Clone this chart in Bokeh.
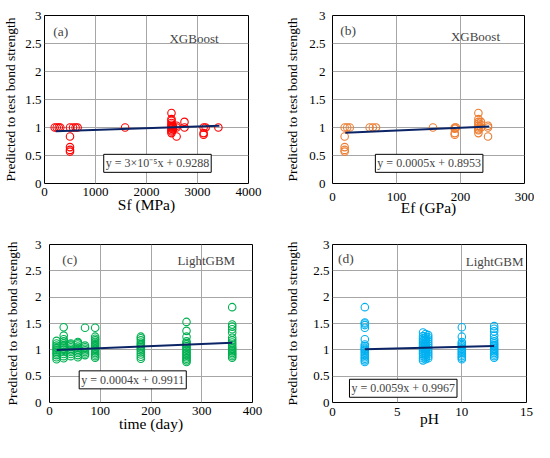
from bokeh.plotting import figure
from bokeh.layouts import column, row
from bokeh.models import Label, FixedTicker, Range1d
from bokeh.embed import file_html
from bokeh.resources import INLINE

# ---------------- data ----------------
sf_x = [200, 240, 280, 310, 500, 500, 500, 500, 500, 560, 610, 650, 1580,
        2490, 2490, 2490, 2490, 2490, 2490, 2490, 2490, 2490, 2490, 2490,
        2520, 2520, 2520, 2590, 2590, 2590, 2745, 2745, 3120, 3120, 3120, 3160, 3410]
sf_y = [1.0, 1.0, 1.0, 1.0, 1.0, 0.84, 0.65, 0.6, 0.57, 1.0, 1.0, 1.0, 1.0,
        1.26, 1.15, 1.12, 1.08, 1.05, 1.02, 1.0, 0.98, 0.95, 0.93, 0.9,
        1.0, 1.02, 0.97, 1.03, 1.0, 0.84, 1.1, 1.0, 1.0, 0.9, 0.87, 1.0, 1.0]
sf_fit_x = [220, 3430]
sf_fit_y = [0.935, 1.032]

ef_x = [19, 19, 19, 19, 19, 23, 27, 58, 63, 68, 157,
        191, 191, 191, 191, 193,
        228, 228, 228, 228, 228, 228, 228, 228, 228, 232, 232, 232,
        243, 243, 243]
ef_y = [1.0, 0.84, 0.65, 0.6, 0.57, 1.0, 1.0, 1.0, 1.0, 1.0, 1.0,
        1.0, 0.98, 0.9, 0.87, 1.0,
        1.26, 1.15, 1.1, 1.07, 1.03, 1.0, 0.97, 0.95, 0.9, 1.1, 1.05, 1.0,
        1.03, 1.0, 0.84]
ef_fit_x = [20, 245]
ef_fit_y = [0.905, 1.018]

t_x = ([14] * 11 + [28] * 13 + [42] * 9 + [56] * 10 + [70] * 8 + [90] * 15 +
       [180] * 13 + [270] * 17 + [360] * 17)
t_y = ([0.82, 0.86, 0.9, 0.93, 0.96, 0.99, 1.02, 1.05, 1.08, 1.12, 1.17] +
       [0.84, 0.88, 0.92, 0.96, 1.0, 1.03, 1.06, 1.09, 1.12, 1.16, 1.2, 1.27, 1.43] +
       [0.88, 0.92, 0.96, 0.99, 1.02, 1.05, 1.08, 1.1, 1.12] +
       [0.86, 0.9, 0.94, 0.97, 1.0, 1.03, 1.06, 1.1, 1.13, 1.15] +
       [0.9, 0.93, 0.96, 0.99, 1.02, 1.05, 1.08, 1.42] +
       [0.85, 0.88, 0.91, 0.94, 0.97, 1.0, 1.03, 1.06, 1.09, 1.12, 1.15, 1.18, 1.21, 1.25, 1.42] +
       [0.83, 0.87, 0.91, 0.95, 0.99, 1.02, 1.05, 1.08, 1.11, 1.14, 1.18, 1.22, 1.25] +
       [0.77, 0.8, 0.83, 0.86, 0.89, 0.92, 0.95, 0.98, 1.01, 1.04, 1.07, 1.1, 1.13, 1.16, 1.25, 1.36, 1.53] +
       [0.85, 0.88, 0.91, 0.94, 0.97, 1.0, 1.03, 1.06, 1.1, 1.14, 1.18, 1.23, 1.33, 1.39, 1.44, 1.48, 1.81])
t_fit_x = [14, 360]
t_fit_y = [0.997, 1.135]

ph_x = ([2.5] * 19 + [7.0] * 16 + [7.2] * 14 + [7.4] * 12 + [10.0] * 14 + [12.5] * 16)
ph_y = ([0.77, 0.8, 0.83, 0.86, 0.89, 0.92, 0.95, 0.98, 1.0, 1.02, 1.04, 1.07, 1.1, 1.2, 1.42, 1.47, 1.5, 1.52, 1.81] +
        [0.8, 0.84, 0.88, 0.92, 0.95, 0.98, 1.01, 1.04, 1.07, 1.1, 1.13, 1.16, 1.19, 1.22, 1.26, 1.33] +
        [0.82, 0.86, 0.9, 0.94, 0.97, 1.0, 1.03, 1.06, 1.09, 1.12, 1.15, 1.19, 1.24, 1.3] +
        [0.84, 0.88, 0.92, 0.96, 1.0, 1.04, 1.08, 1.12, 1.16, 1.2, 1.24, 1.28] +
        [0.82, 0.85, 0.88, 0.91, 0.94, 0.97, 1.0, 1.03, 1.06, 1.09, 1.12, 1.15, 1.25, 1.43] +
        [0.85, 0.88, 0.91, 0.94, 0.97, 1.0, 1.03, 1.06, 1.09, 1.12, 1.16, 1.2, 1.27, 1.35, 1.4, 1.45])
ph_fit_x = [2.5, 12.5]
ph_fit_y = [1.0115, 1.0705]

y_ticks = [0, 0.5, 1, 1.5, 2, 2.5, 3]
FONT = "Liberation Serif"


def make_panel(xs, ys, fx, fy, color, xmax, xstep, xlabel, tag, model, eq,
               tag_pos, model_pos, eq_pos, w, h, bl, br, bt, bb,
               lab_stand, ax_stand, xlab_stand, xax_stand):
    p = figure(width=w, height=h, output_backend="svg", toolbar_location=None,
               x_range=Range1d(0, xmax), y_range=Range1d(0, 3),
               min_border_left=bl, min_border_right=br,
               min_border_top=bt, min_border_bottom=bb)
    p.background_fill_color = "white"
    p.border_fill_color = "white"
    p.outline_line_color = "black"
    p.outline_line_width = 1
    p.xaxis.ticker = FixedTicker(ticks=list(range(0, xmax + 1, xstep)))
    p.yaxis.ticker = FixedTicker(ticks=y_ticks)
    for ax in (p.xaxis, p.yaxis):
        ax.axis_line_color = None
        ax.major_tick_line_color = None
        ax.minor_tick_line_color = None
        ax.major_tick_out = 0
        ax.major_tick_in = 0
        ax.major_label_text_font = FONT
        ax.major_label_text_font_size = "13px"
        ax.major_label_text_color = "black"
        ax.axis_label_text_font = FONT
        ax.axis_label_text_font_style = "normal"
        ax.axis_label_text_color = "black"
    p.yaxis.axis_label = "Predicted to test bond strength"
    p.yaxis.axis_label_text_font_size = "13.5px"
    p.yaxis.major_label_standoff = lab_stand
    p.yaxis.axis_label_standoff = ax_stand
    p.xaxis.axis_label = xlabel
    p.xaxis.axis_label_text_font_size = "15.5px"
    p.xaxis.major_label_standoff = xlab_stand
    p.xaxis.axis_label_standoff = xax_stand
    p.grid.grid_line_color = "#a6a6a6"
    p.grid.grid_line_width = 1

    p.scatter(xs, ys, marker="circle", size=7.5, fill_color=None,
              line_color=color, line_width=1.1)
    p.line(fx, fy, line_color="#0b2466", line_width=2)

    p.add_layout(Label(x=tag_pos[0], y=tag_pos[1], text=tag, text_font=FONT,
                       text_font_size="13.5px", text_baseline="middle"))
    p.add_layout(Label(x=model_pos[0], y=model_pos[1], text=model, text_font=FONT,
                       text_font_size="13px", text_baseline="middle"))
    p.add_layout(Label(x=eq_pos[0], y=eq_pos[1], text=eq, text_font=FONT,
                       text_font_size="12px", text_baseline="middle",
                       text_align="center", background_fill_color="white",
                       border_line_color="black", border_line_width=1,
                       padding=2))
    return p


pa = make_panel(sf_x, sf_y, sf_fit_x, sf_fit_y, "#ff0000", 4000, 1000, "Sf (MPa)",
                "(a)", "XGBoost", "y = 3×10⁻⁵x + 0.9288",
                (170, 2.71), (2450, 2.59), (2215, 0.36),
                282, 234, 44, 34, 15, 40, 3, 4, 4, -3)
pb = make_panel(ef_x, ef_y, ef_fit_x, ef_fit_y, "#ed7d31", 300, 100, "Ef (GPa)",
                "(b)", "XGBoost", "y = 0.0005x + 0.8953",
                (12, 2.74), (185, 2.62), (151, 0.36),
                252, 234, 48, 10, 9, 51, 7, 6, 9, -5)
pc = make_panel(t_x, t_y, t_fit_x, t_fit_y, "#00b050", 400, 100, "time (day)",
                "(c)", "LightGBM", "y = 0.0004x + 0.9911",
                (25, 2.72), (252, 2.70), (164, 0.43),
                282, 208, 49, 30, 10, 40, 8, 2, 4, -3)
pd_ = make_panel(ph_x, ph_y, ph_fit_x, ph_fit_y, "#00b0f0", 15, 5, "pH",
                 "(d)", "LightGBM", "y = 0.0059x + 0.9967",
                 (0.42, 2.73), (10.3, 2.68), (5.47, 0.27),
                 252, 208, 46, 8, 10, 32, 3, 10, 5, -9)

layout = column(row(pa, pb), row(pc, pd_))
open("out.html", "w").write(file_html(layout, INLINE))
